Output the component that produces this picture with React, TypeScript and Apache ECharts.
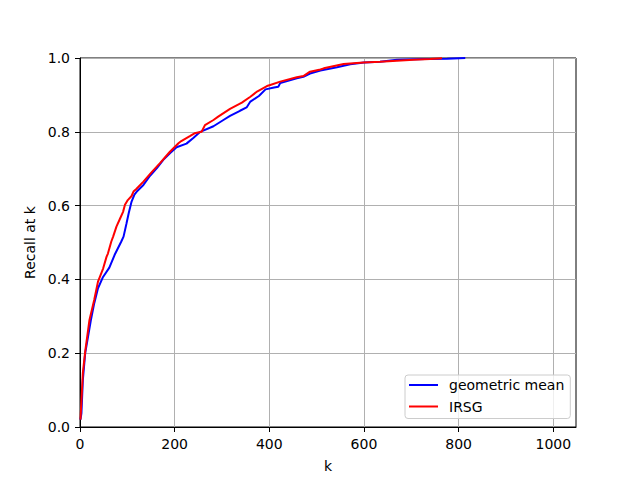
import React, { useEffect, useRef } from "react";
import * as echarts from "echarts";

const geoK = [1, 3, 6, 11, 17, 23, 30, 38, 48, 62, 73, 87, 92, 98, 103, 109, 115, 120, 134, 148, 162, 176, 190, 204, 225, 240, 254, 282, 303, 317, 338, 352, 360, 378, 392, 410, 419, 423, 458, 472, 486, 508, 543, 571, 600, 634, 670, 730, 776, 814];
const geoR = [0.02, 0.037, 0.127, 0.2, 0.245, 0.29, 0.335, 0.376, 0.405, 0.432, 0.466, 0.502, 0.516, 0.55, 0.58, 0.611, 0.63, 0.638, 0.656, 0.681, 0.701, 0.724, 0.742, 0.758, 0.768, 0.784, 0.8, 0.815, 0.832, 0.843, 0.857, 0.866, 0.882, 0.897, 0.915, 0.92, 0.922, 0.932, 0.945, 0.949, 0.958, 0.966, 0.975, 0.983, 0.988, 0.99, 0.995, 0.997, 0.998, 1.0];

const irsgK = [1, 6, 11, 20, 30, 38, 42, 49, 56, 59, 66, 70, 77, 84, 91, 95, 101, 109, 113, 119, 134, 151, 169, 190, 208, 214, 233, 242, 257, 264, 282, 292, 317, 342, 360, 374, 395, 402, 423, 458, 472, 486, 508, 515, 557, 599, 634, 705, 740, 765];
const irsgR = [0.02, 0.146, 0.205, 0.29, 0.344, 0.394, 0.407, 0.43, 0.461, 0.47, 0.502, 0.516, 0.543, 0.563, 0.583, 0.602, 0.615, 0.626, 0.638, 0.645, 0.665, 0.69, 0.715, 0.746, 0.769, 0.775, 0.789, 0.796, 0.8, 0.818, 0.832, 0.841, 0.862, 0.879, 0.895, 0.909, 0.924, 0.927, 0.936, 0.948, 0.951, 0.963, 0.969, 0.972, 0.984, 0.988, 0.99, 0.995, 0.997, 0.999];

const xTicks = [0, 200, 400, 600, 800, 1000];
const seriesNames = ["geometric mean", "IRSG"];

const FONT = "DejaVu Sans";

export default function App() {
  const ref = useRef<HTMLDivElement>(null);
  useEffect(() => {
    if (!ref.current) return;
    const chart = echarts.init(ref.current, null, { renderer: "svg" });
    const zip = (k: number[], r: number[]) => k.map((v, i) => [v, r[i]]);
    chart.setOption({
      animation: false,
      backgroundColor: "#ffffff",
      textStyle: { fontFamily: FONT },
      grid: {
        left: 80,
        right: 64,
        top: 58,
        bottom: 53,
        show: true,
        borderColor: "#000000",
        borderWidth: 1,
        backgroundColor: "#ffffff",
      },
      legend: {
        left: 405,
        top: 375,
        orient: "vertical",
        data: seriesNames,
        icon: "rect",
        itemWidth: 29,
        itemHeight: 2,
        itemGap: 5.5,
        padding: [2, 6, 4, 4],
        backgroundColor: "rgba(255,255,255,0.8)",
        borderColor: "#cccccc",
        borderWidth: 1,
        borderRadius: 3,
        textStyle: {
          fontFamily: FONT,
          fontSize: 14,
          color: "#000000",
          lineHeight: 16,
          padding: [0, 0, 0, 6],
        },
      },
      xAxis: {
        type: "value",
        min: 0,
        max: 1048,
        interval: 200,
        name: "k",
        nameLocation: "middle",
        nameGap: 32,
        nameTextStyle: { fontFamily: FONT, fontSize: 14, color: "#000000" },
        axisLine: { show: true, lineStyle: { color: "#000000", width: 1 } },
        axisTick: { show: true, length: 5, lineStyle: { color: "#000000" }, customValues: xTicks },
        axisLabel: {
          fontFamily: FONT,
          fontSize: 14,
          color: "#000000",
          margin: 10,
          customValues: xTicks,
          formatter: (v: number) => String(v),
        },
        splitLine: { show: true, lineStyle: { color: "#b0b0b0", width: 1 } },
      },
      yAxis: {
        type: "value",
        min: 0,
        max: 1,
        interval: 0.2,
        name: "Recall at k",
        nameLocation: "middle",
        nameGap: 33,
        nameTextStyle: { fontFamily: FONT, fontSize: 14, color: "#000000" },
        axisLine: { show: true, lineStyle: { color: "#000000", width: 1 } },
        axisTick: { show: true, length: 5, lineStyle: { color: "#000000" } },
        axisLabel: {
          fontFamily: FONT,
          fontSize: 14,
          color: "#000000",
          margin: 10,
          formatter: (v: number) => v.toFixed(1),
        },
        splitLine: { show: true, lineStyle: { color: "#b0b0b0", width: 1 } },
      },
      series: [
        {
          name: seriesNames[0],
          type: "line",
          data: zip(geoK, geoR),
          showSymbol: false,
          symbol: "none",
          lineStyle: { color: "#0000ff", width: 2 },
          itemStyle: { color: "#0000ff" },
        },
        {
          name: seriesNames[1],
          type: "line",
          data: zip(irsgK, irsgR),
          showSymbol: false,
          symbol: "none",
          lineStyle: { color: "#ff0000", width: 2 },
          itemStyle: { color: "#ff0000" },
        },
      ],
    });
    return () => chart.dispose();
  }, []);
  return <div ref={ref} style={{ width: 640, height: 480, position: "absolute", left: 0, top: 0 }} />;
}
